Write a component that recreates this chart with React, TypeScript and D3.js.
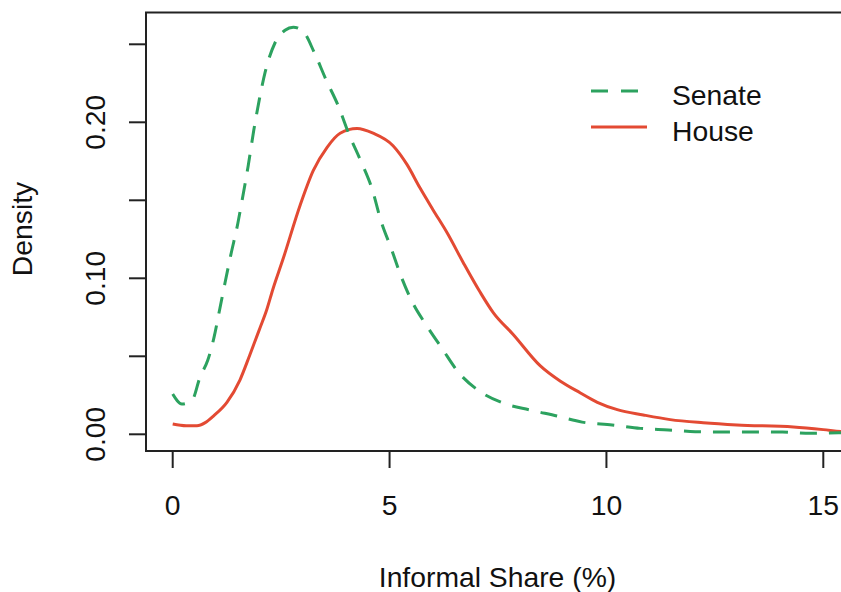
import React from "react";
import * as d3 from "d3";

const senateX = [0, 0.21, 0.45, 0.63, 0.81, 0.95, 1.09, 1.21, 1.34, 1.5, 1.6, 1.74, 1.87, 2.0, 2.13, 2.36, 2.59, 2.78, 3.0, 3.26, 3.54, 3.81, 4.07, 4.34, 4.6, 4.8, 5.04, 5.27, 5.52, 5.87, 6.21, 6.58, 7.07, 7.62, 8.24, 8.86, 9.44, 10.13, 10.78, 11.43, 12.05, 12.72, 13.36, 14.06, 14.7, 15.35, 16.0];
const senateY = [0.0258, 0.0194, 0.022, 0.0367, 0.0476, 0.0618, 0.081, 0.0976, 0.115, 0.135, 0.15, 0.172, 0.195, 0.215, 0.232, 0.251, 0.259, 0.261, 0.2585, 0.245, 0.227, 0.211, 0.192, 0.175, 0.157, 0.137, 0.119, 0.101, 0.085, 0.069, 0.055, 0.04, 0.0277, 0.02, 0.0156, 0.0117, 0.0078, 0.006, 0.0038, 0.0028, 0.0017, 0.0015, 0.0015, 0.0014, 0.0006, 0.001, 0.0008];

const houseX = [0, 0.31, 0.56, 0.75, 0.95, 1.25, 1.55, 1.78, 2.01, 2.17, 2.31, 2.54, 2.94, 3.24, 3.56, 3.86, 4.25, 4.62, 5.08, 5.4, 5.7, 6.0, 6.33, 6.7, 7.09, 7.39, 7.85, 8.47, 8.94, 9.4, 9.79, 10.25, 10.85, 11.47, 12.23, 13.01, 14.31, 15.0, 15.41, 16.0];
const houseY = [0.0066, 0.0055, 0.0055, 0.0075, 0.012, 0.0205, 0.0348, 0.051, 0.068, 0.08, 0.093, 0.112, 0.147, 0.169, 0.184, 0.193, 0.196, 0.193, 0.185, 0.173, 0.158, 0.144, 0.129, 0.11, 0.091, 0.078, 0.064, 0.044, 0.034, 0.0265, 0.0205, 0.0158, 0.0124, 0.0094, 0.0074, 0.006, 0.0047, 0.003, 0.0018, 0.001];

const xTicks = [0, 5, 10, 15];
const yTicks = [0, 0.05, 0.1, 0.15, 0.2, 0.25];
const yTickLabels = ["0.00", "", "0.10", "", "0.20", ""];
const seriesNames = ["Senate", "House"];
const seriesColors = ["#2ca25f", "#e34a33"];

const W = 841;
const H = 592;
const box = { left: 146, right: 849, top: 12.5, bottom: 451 };
const FONT = "'Liberation Sans', Arial, sans-serif";

export default function App() {
  const x = d3.scaleLinear().domain([0, 15]).range([172.7, 823.3]);
  const y = d3.scaleLinear().domain([0, 0.25]).range([434.3, 44.3]);

  const line = d3
    .line<[number, number]>()
    .x((d) => x(d[0]))
    .y((d) => y(d[1]))
    .curve(d3.curveMonotoneX);

  const senate = senateX.map((v, i) => [v, senateY[i]] as [number, number]);
  const house = houseX.map((v, i) => [v, houseY[i]] as [number, number]);

  const axisColor = "#222";
  const fs = 28.3;

  return (
    <svg
      width={W}
      height={H}
      style={{ position: "absolute", left: 0, top: 0, background: "#fff" }}
    >
      <defs>
        <clipPath id="plotclip">
          <rect x={box.left} y={box.top} width={box.right - box.left} height={box.bottom - box.top} />
        </clipPath>
      </defs>
      <rect x={0} y={0} width={W} height={H} fill="#fff" />
      <g clipPath="url(#plotclip)" fill="none" strokeLinejoin="round">
        <path d={line(house) || ""} stroke={seriesColors[1]} strokeWidth={3} />
        <path
          d={line(senate) || ""}
          stroke={seriesColors[0]}
          strokeWidth={3}
          strokeDasharray="17 12"
        />
      </g>
      <rect
        x={box.left}
        y={box.top}
        width={box.right - box.left}
        height={box.bottom - box.top}
        fill="none"
        stroke={axisColor}
        strokeWidth={2}
      />
      {/* x axis */}
      <g>
        {xTicks.map((t) => (
          <g key={t}>
            <line x1={x(t)} x2={x(t)} y1={box.bottom} y2={box.bottom + 17} stroke={axisColor} strokeWidth={2} />
            <text x={x(t)} y={515} textAnchor="middle" fontFamily={FONT} fontSize={fs} fill="#111">
              {t}
            </text>
          </g>
        ))}
      </g>
      {/* y axis */}
      <g>
        {yTicks.map((t, i) => (
          <g key={t}>
            <line x1={box.left - 17} x2={box.left} y1={y(t)} y2={y(t)} stroke={axisColor} strokeWidth={2} />
            {yTickLabels[i] && (
              <text
                transform={`translate(105,${y(t)}) rotate(-90)`}
                textAnchor="middle"
                fontFamily={FONT}
                fontSize={fs}
                fill="#111"
              >
                {yTickLabels[i]}
              </text>
            )}
          </g>
        ))}
      </g>
      <text x={497.5} y={587} textAnchor="middle" fontFamily={FONT} fontSize={fs} fill="#111">
        Informal Share (%)
      </text>
      <text
        transform={`translate(32,229) rotate(-90)`}
        textAnchor="middle"
        fontFamily={FONT}
        fontSize={fs}
        fill="#111"
      >
        Density
      </text>
      {/* legend */}
      <g>
        <line x1={591} x2={638} y1={91} y2={91} stroke={seriesColors[0]} strokeWidth={3} strokeDasharray="17 13" />
        <line x1={591} x2={647} y1={127} y2={127} stroke={seriesColors[1]} strokeWidth={3} />
        <text x={672} y={105} fontFamily={FONT} fontSize={fs} fill="#111">
          {seriesNames[0]}
        </text>
        <text x={672} y={141} fontFamily={FONT} fontSize={fs} fill="#111">
          {seriesNames[1]}
        </text>
      </g>
    </svg>
  );
}
